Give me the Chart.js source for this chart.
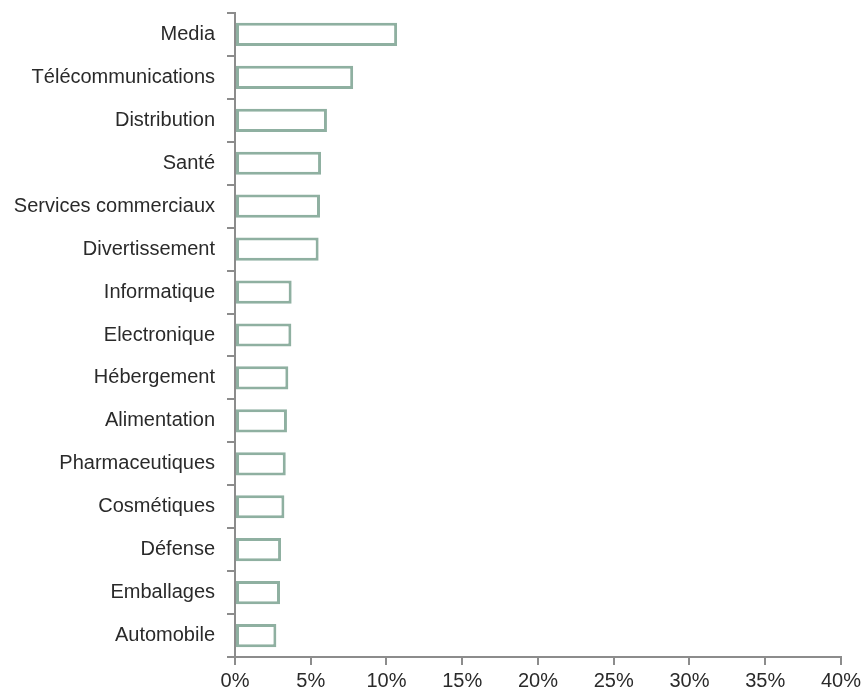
<!DOCTYPE html>
<html>
<head>
<meta charset="utf-8">
<script src="https://cdn.jsdelivr.net/npm/chart.js@4"></script>
<style>
  html, body { margin: 0; padding: 0; background: #ffffff; }
  #wrap { width: 865px; height: 692px; }
</style>
</head>
<body>
<div id="wrap"><canvas id="chart"></canvas></div>
<script>
// Sectors and their share (%)
const sectors = ['Media', 'Télécommunications', 'Distribution', 'Santé', 'Services commerciaux',
    'Divertissement', 'Informatique', 'Electronique', 'Hébergement', 'Alimentation',
    'Pharmaceutiques', 'Cosmétiques', 'Défense', 'Emballages', 'Automobile'];
const shares = [10.7, 7.8, 6.07, 5.68, 5.61, 5.52, 3.74, 3.72, 3.52, 3.43, 3.35, 3.26, 3.04, 2.97, 2.73];
const xTicks = [0, 5, 10, 15, 20, 25, 30, 35, 40];

const axisColor = '#8c8c8c';
const labelFont = { family: "'Liberation Sans', Arial, sans-serif", size: 20 };

new Chart(document.getElementById('chart'), {
    type: 'bar',
    data: {
        labels: sectors,
        datasets: [{
            data: shares,
            backgroundColor: '#ffffff',
            borderColor: '#8fb0a1',
            borderWidth: 3,
            borderSkipped: false,
            barPercentage: 0.54,
            categoryPercentage: 1
        }]
    },
    options: {
        indexAxis: 'y',
        responsive: true,
        maintainAspectRatio: false,
        animation: false,
        layout: { padding: { top: 13, right: 24, left: 0, bottom: 0 } },
        plugins: {
            legend: { display: false },
            tooltip: { enabled: false }
        },
        scales: {
            x: {
                min: 0,
                max: 40,
                afterBuildTicks: scale => {
                    scale.ticks = xTicks.map(v => ({ value: v }));
                },
                afterFit: scale => { scale.height = 35; },
                grid: { drawOnChartArea: false, color: axisColor, lineWidth: 2, tickLength: 8 },
                border: { color: axisColor, width: 2 },
                ticks: {
                    color: '#2a2a2a',
                    font: labelFont,
                    padding: 4,
                    maxRotation: 0,
                    callback: v => v + '%'
                }
            },
            y: {
                afterFit: scale => {
                    scale.width = 235;
                    scale.paddingTop = 0;
                    scale.paddingBottom = 0;
                },
                grid: { drawOnChartArea: false, color: axisColor, lineWidth: 2, tickLength: 8, offset: true },
                border: { color: axisColor, width: 2 },
                ticks: {
                    color: '#2a2a2a',
                    font: labelFont,
                    padding: 12
                }
            }
        }
    }
});
</script>
</body>
</html>
